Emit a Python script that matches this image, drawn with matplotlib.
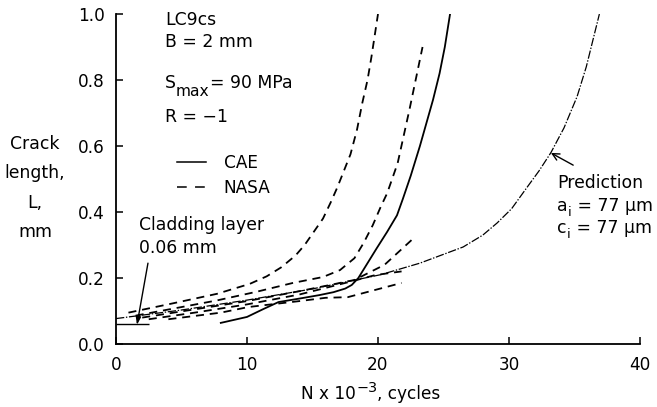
import matplotlib
matplotlib.use("Agg")
import matplotlib.pyplot as plt
from matplotlib.lines import Line2D
from matplotlib.transforms import IdentityTransform

plt.rcParams['font.family'] = ['DejaVu Sans']
plt.rcParams['mathtext.fontset'] = 'dejavusans'
plt.rcParams['lines.scale_dashes'] = False

# ---- data (N x 10^-3 cycles, crack length L in mm) ----
cae_N = [8.0, 10.0, 11.2, 12.4, 14.2, 15.5, 16.6, 17.5, 18.0, 18.5, 19.2, 19.9, 20.7, 21.45, 21.9, 22.5, 23.2, 23.7, 24.2, 24.7, 25.1, 25.5]
cae_L = [0.064, 0.082, 0.105, 0.127, 0.139, 0.148, 0.157, 0.168, 0.179, 0.20, 0.245, 0.29, 0.34, 0.39, 0.44, 0.51, 0.60, 0.67, 0.74, 0.82, 0.90, 1.0]

nasa1_N = [0.95, 4.2, 7.7, 10.2, 11.5, 12.6, 13.7, 14.4, 15.1, 15.8, 16.4, 16.9, 17.4, 17.9, 18.4, 18.8, 19.2, 19.5, 20.0]
nasa1_L = [0.095, 0.122, 0.152, 0.182, 0.205, 0.232, 0.268, 0.300, 0.34, 0.38, 0.43, 0.475, 0.525, 0.575, 0.65, 0.73, 0.80, 0.87, 1.0]

nasa2_N = [1.5, 4.2, 7.7, 10.7, 13.5, 15.8, 17.1, 18.2, 18.9, 19.6, 20.2, 20.7, 21.5, 22.4, 23.4]
nasa2_L = [0.086, 0.106, 0.132, 0.158, 0.185, 0.203, 0.224, 0.26, 0.306, 0.36, 0.415, 0.457, 0.548, 0.71, 0.90]

nasa3_N = [2.0, 6.0, 10.0, 14.0, 18.2, 20.5, 22.7]
nasa3_L = [0.080, 0.105, 0.130, 0.160, 0.194, 0.240, 0.320]

nasa4_N = [2.5, 6.0, 10.0, 14.0, 18.0, 19.8, 21.8]
nasa4_L = [0.075, 0.095, 0.120, 0.150, 0.190, 0.209, 0.220]

nasa5_N = [4.0, 8.0, 10.1, 14.0, 16.0, 17.7, 21.8]
nasa5_L = [0.075, 0.095, 0.112, 0.130, 0.140, 0.142, 0.185]

pred_N = [0.0, 5.0, 10.0, 15.0, 20.2, 23.2, 26.5, 28.0, 29.1, 30.2, 31.4, 32.3, 33.2, 34.2, 35.2, 35.9, 36.4, 36.9]
pred_L = [0.077, 0.103, 0.133, 0.167, 0.21, 0.245, 0.294, 0.33, 0.367, 0.41, 0.476, 0.525, 0.58, 0.655, 0.75, 0.84, 0.92, 1.0]

clad_L = 0.06
clad_N = [0.0, 2.5]

x_ticks = [0, 10, 20, 30, 40]
y_ticks = [0.0, 0.2, 0.4, 0.6, 0.8, 1.0]

W, H = 657, 407
fig = plt.figure(figsize=(W / 100, H / 100), dpi=100)
ax = fig.add_axes([116 / W, 63 / H, 524 / W, 330 / H])

dash = (0, (5.8, 4.2))
dashdot = (0, (6.0, 1.2, 1.0, 1.2))
lw = 1.3

ax.plot(cae_N, cae_L, color='black', lw=lw, ls='-')
for nN, nL in [(nasa1_N, nasa1_L), (nasa2_N, nasa2_L), (nasa3_N, nasa3_L),
               (nasa4_N, nasa4_L), (nasa5_N, nasa5_L)]:
    ax.plot(nN, nL, color='black', lw=lw, ls=dash)
ax.plot(pred_N, pred_L, color='black', lw=0.9, ls=dashdot)

ax.hlines(clad_L, clad_N[0], clad_N[1], color='black', lw=1.0)

ax.set_xlim(0, 40)
ax.set_ylim(0, 1.0)
ax.set_xticks(x_ticks)
ax.set_yticks(y_ticks)
ax.set_xticklabels([str(t) for t in x_ticks])
ax.set_yticklabels(['%.1f' % t for t in y_ticks])
ax.spines['top'].set_visible(False)
ax.spines['right'].set_visible(False)
for s in ['left', 'bottom']:
    ax.spines[s].set_linewidth(1.3)
ax.tick_params(direction='in', length=5, width=1.1, labelsize=12.2, pad=8, colors='black')
ax.tick_params(axis='x', pad=9)

renderer = fig.canvas.get_renderer()
FS = 12.4


def runs(xd, yd, parts, fontsize=FS, ha='left'):
    """Place successive text runs (string, baseline shift px, size factor)."""
    texts = []
    cx = xd
    for s, dy, k in parts:
        t = fig.text(cx, yd + dy, s, transform=IdentityTransform(),
                     fontsize=fontsize * k, va='baseline', ha='left')
        cx = t.get_window_extent(renderer).x1
        texts.append(t)
    if ha == 'center':
        w = cx - xd
        for t in texts:
            x0, y0 = t.get_position()
            t.set_position((x0 - w / 2, y0))
    return texts


def data_runs(N, L, parts, **kw):
    xd, yd = ax.transData.transform((N, L))
    return runs(xd, yd, parts, **kw)


# x-axis label, centred under the axis
runs(371, H - 399, [('N x 10', 0, 1.0), ('\u22123', 7, 0.85), (', cycles', 0, 1.0)],
     fontsize=12.2, ha='center')

fig.text(35 / W, 1 - 188 / H, 'Crack\nlength,\nL,\nmm', ha='center', va='center',
         multialignment='center', fontsize=12.4, linespacing=1.82)

data_runs(3.74, 0.967, [('LC9cs', 0, 1.0)])
data_runs(3.74, 0.900, [('B = 2 mm', 0, 1.0)])
data_runs(3.74, 0.776, [('S', 0, 1.0), ('max', -8, 0.9), ('= 90 MPa', 0, 1.0)])
data_runs(3.74, 0.673, [('R = \u22121', 0, 1.0)])

handles = [Line2D([], [], color='black', lw=1.1, ls='-'),
           Line2D([], [], color='black', lw=1.1, ls=(0, (7.0, 6.0)))]
ax.legend(handles, ['CAE', 'NASA'], loc='upper left', bbox_to_anchor=(0.1164, 0.576),
          frameon=False, fontsize=12.2, handlelength=1.7, handletextpad=1.05,
          labelspacing=0.4, borderpad=0, borderaxespad=0)

data_runs(1.78, 0.345, [('Cladding layer', 0, 1.0)])
data_runs(1.78, 0.276, [('0.06 mm', 0, 1.0)])
ax.annotate('', xy=(1.6, 0.058), xytext=(2.44, 0.245),
            arrowprops=dict(arrowstyle='-|>,head_length=0.45,head_width=0.15',
                            color='black', lw=1.0, shrinkA=0, shrinkB=0))

data_runs(33.7, 0.473, [('Prediction', 0, 1.0)])
data_runs(33.7, 0.403, [('a', 0, 1.0), ('i', -5, 0.75), (' = 77 \u03bcm', 0, 1.0)])
data_runs(33.7, 0.336, [('c', 0, 1.0), ('i', -5, 0.75), (' = 77 \u03bcm', 0, 1.0)])
ax.annotate('', xy=(33.2, 0.579), xytext=(34.9, 0.542),
            arrowprops=dict(arrowstyle='->,head_length=0.5,head_width=0.25',
                            color='black', lw=1.0, shrinkA=0, shrinkB=0))

fig.savefig('out.png', dpi=100)
